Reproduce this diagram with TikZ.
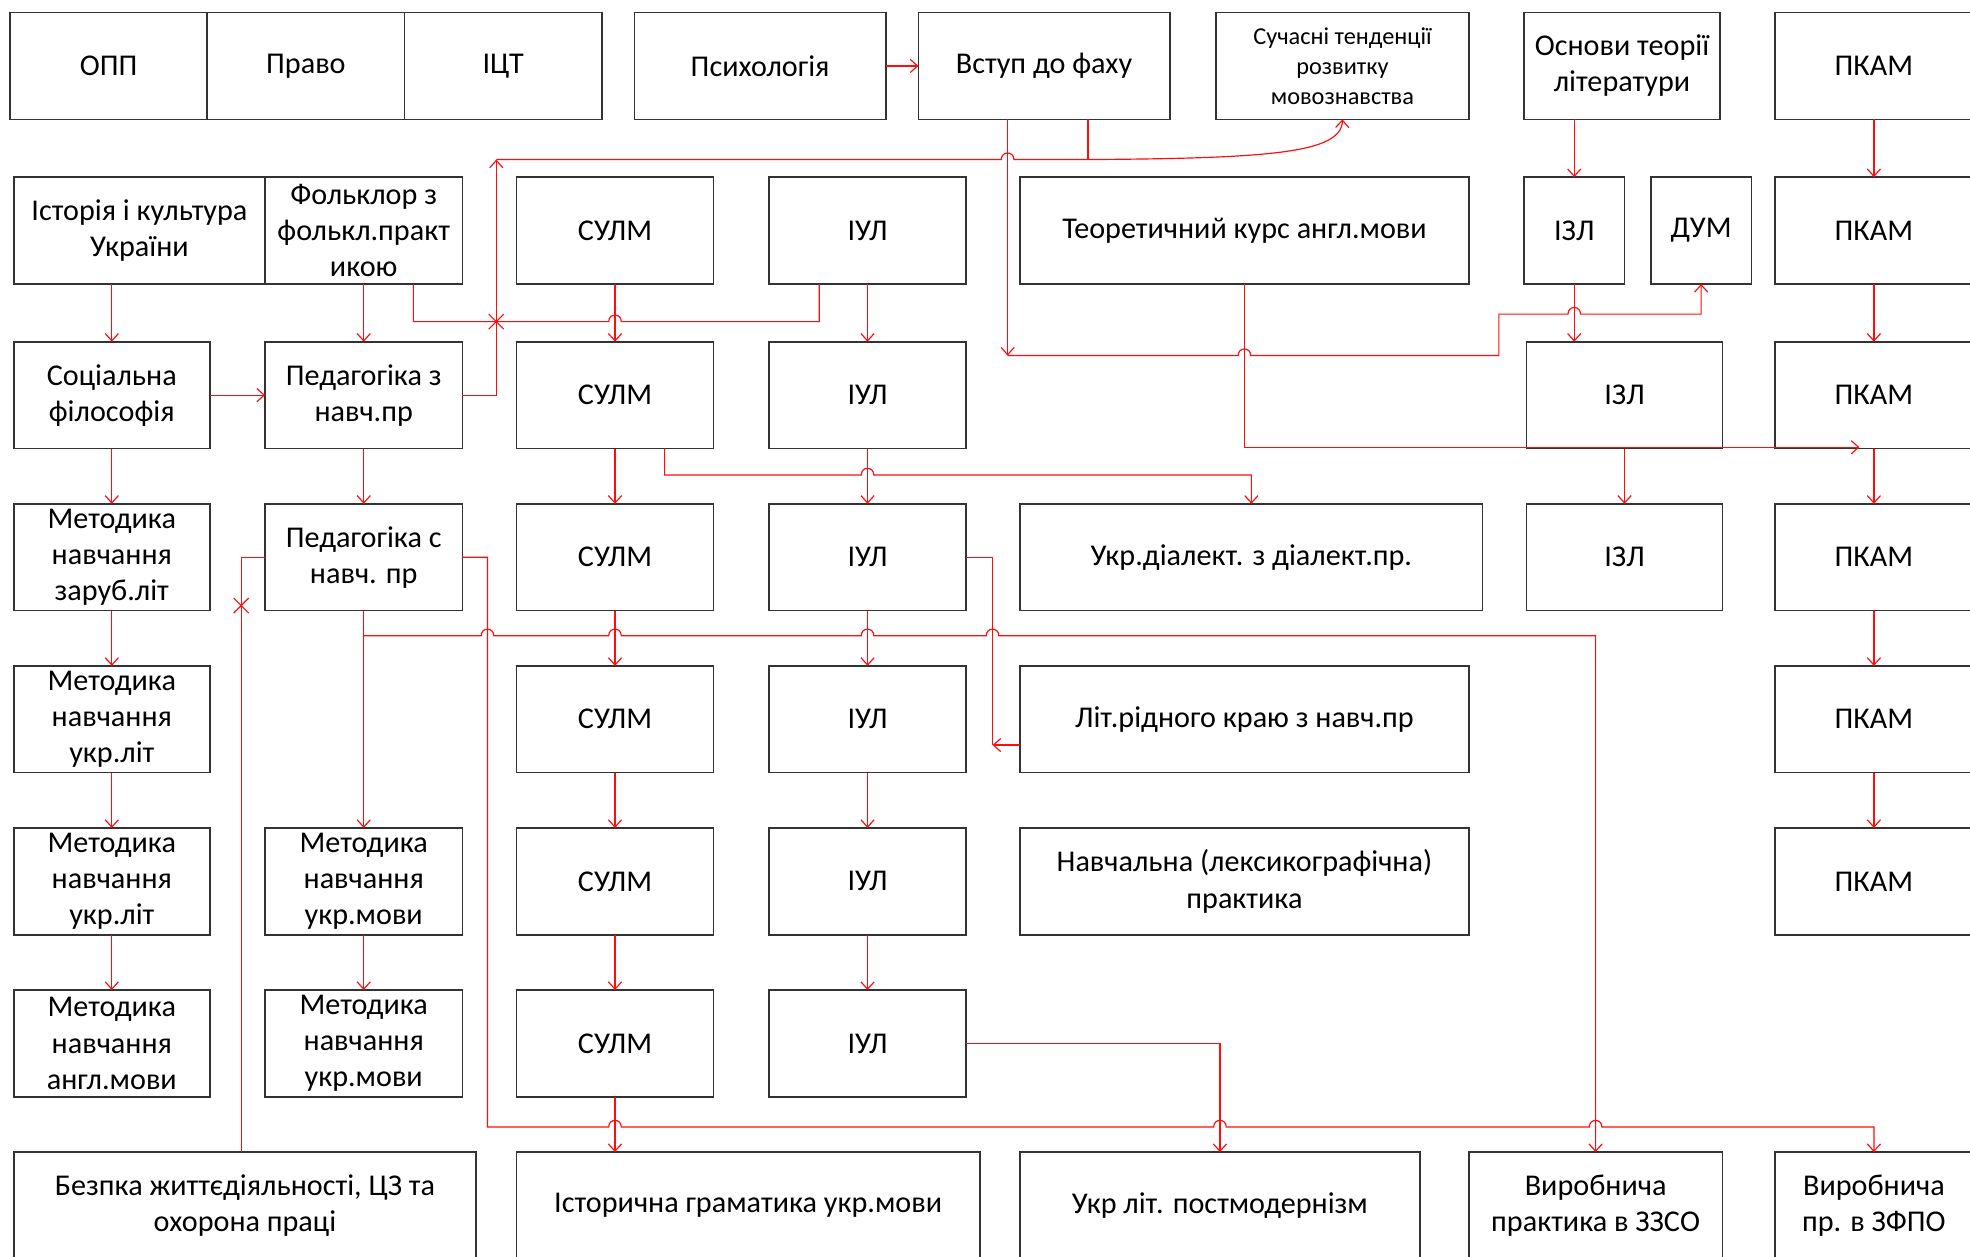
\documentclass[tikz,border=0pt]{standalone}
\usepackage{fontspec}
\setmainfont{Carlito}
\usetikzlibrary{arrows.meta}

\begin{document}
\begin{tikzpicture}[x=0.03cm, y=-0.03cm,
  box/.style={draw=black!80, line width=1.1pt, minimum height=2.55cm, inner sep=0pt, outer sep=0pt,
              align=center, font=\fontsize{20.5}{24.5}\selectfont},
  wd/.style={minimum width=#1*0.03cm},
  conn/.style={draw=red!95!white, line width=0.8pt},
  arr/.style={conn, -{Straight Barb[length=5pt,width=9pt]}}]
\clip (0,0) rectangle (1568,1000);
\useasboundingbox (0,0) rectangle (1568,1000);

\node[box, wd=157] (opp)   at (86.5,52.5)  {ОПП};
\node[box, wd=157] (pravo) at (243.5,52.5) {Право};
\node[box, wd=157] (ict)   at (400.5,52.5) {ІЦТ};
\node[box, wd=200] (psy)   at (605,52.5)   {Психологія};
\node[box, wd=200] (vstup) at (831,52.5)   {Вступ до фаху};
\node[box, wd=201, font=\fontsize{16.5}{20.5}\selectfont] (suchasni) at (1068.5,52.5) {Сучасні тенденції\\розвитку\\мовознавства};
\node[box, wd=156] (osnovy) at (1291,52.5) {Основи теорії\\літератури};

\node[box, wd=200] (istoria) at (111,183.5)   {Історія і культура\\України};
\node[box, wd=157] (folk)    at (289.5,183.5) {Фольклор з\\фолькл.практ\\икою};
\node[box, wd=357] (teor)    at (990.5,183.5) {Теоретичний курс англ.мови};
\node[box, wd=80]  (izl2)    at (1253,183.5)  {ІЗЛ};
\node[box, wd=80]  (dum)     at (1354,183.5)  {ДУМ};

\node[box, wd=156] (socfil) at (89,314.5)    {Соціальна\\філософія};
\node[box, wd=157] (ped1)   at (289.5,314.5) {Педагогіка з\\навч.пр};
\node[box, wd=156] (izl3)   at (1293,314.5)  {ІЗЛ};

\node[box, wd=156] (metzar)  at (89,443.5)    {Методика\\навчання\\заруб.літ};
\node[box, wd=157] (ped2)    at (289.5,443.5) {Педагогіка с\\навч. пр};
\node[box, wd=368] (dialekt) at (996,443.5)   {Укр.діалект. з діалект.пр.};
\node[box, wd=156] (izl4)    at (1293,443.5)  {ІЗЛ};

\node[box, wd=156] (metlit5) at (89,572.5)    {Методика\\навчання\\укр.літ};
\node[box, wd=357] (litkraj) at (990.5,572.5) {Літ.рідного краю з навч.пр};

\node[box, wd=156] (metlit6) at (89,701.5)    {Методика\\навчання\\укр.літ};
\node[box, wd=157] (metmov6) at (289.5,701.5) {Методика\\навчання\\укр.мови};
\node[box, wd=357] (navch)   at (990.5,701.5) {Навчальна (лексикографічна)\\практика};

\node[box, wd=156] (metangl) at (89,830.5)    {Методика\\навчання\\англ.мови};
\node[box, wd=157] (metmov7) at (289.5,830.5) {Методика\\навчання\\укр.мови};

\node[box, wd=368] (bzhd)    at (195,959.5)    {Безпка життєдіяльності, ЦЗ та\\охорона праці};
\node[box, wd=369] (istgram) at (595.5,959.5)  {Історична граматика укр.мови};
\node[box, wd=318] (postmod) at (971,959.5)    {Укр літ. постмодернізм};
\node[box, wd=202] (vyrzzso) at (1270,959.5)   {Виробнича\\практика в ЗЗСО};
\node[box, wd=157] (vyrzfpo) at (1491.5,959.5) {Виробнича\\пр. в ЗФПО};

\foreach \r/\y in {2/183.5, 3/314.5, 4/443.5, 5/572.5, 6/701.5, 7/830.5} {
  \node[box, wd=157] (sulm\r) at (489.5,\y) {СУЛМ};
  \node[box, wd=157] (iul\r)  at (690.5,\y) {ІУЛ};
}
\foreach \r/\y in {1/52.5, 2/183.5, 3/314.5, 4/443.5, 5/572.5, 6/701.5}
  \node[box, wd=157] (pkam\r) at (1491.5,\y) {ПКАМ};

\draw[arr] (psy) -- (vstup);
\draw[arr] (istoria.south -| socfil.north) -- (socfil.north);
\draw[arr] (socfil) -- (ped1);
\foreach \a/\b in {folk/ped1, socfil/metzar, metzar/metlit5, metlit5/metlit6, metlit6/metangl,
                   ped1/ped2, ped2/metmov6, metmov6/metmov7, izl3/izl4}
  \draw[arr] (\a) -- (\b);
\draw[arr] (osnovy.south -| izl2.north) -- (izl2.north);
\draw[arr] (izl2.south) -- (izl2.south |- izl3.north);
\foreach \r [count=\s from 2] in {1,...,5}
  \draw[arr] (pkam\r) -- (pkam\s);
\foreach \r [count=\s from 3] in {2,...,6} {
  \draw[arr] (sulm\r) -- (sulm\s);
  \draw[arr] (iul\r) -- (iul\s);
}
\draw[arr] (sulm7.south) -- (sulm7.south |- istgram.north);

\coordinate (hub) at (395,127);
\coordinate (turn) at (802,283);
\coordinate (kraj) at (790,593);
\coordinate (x1) at (395,256);
\coordinate (x2) at (192,482);

\draw[arr] (ped1.east) -| (hub);
\draw[arr] (hub) -- (797,127) .. controls +(0,-7) and +(0,-7) .. (807,127) -- (866,127)
           .. controls (1010,126) and (1068,122) .. (suchasni.south);
\draw[conn] (vstup.south -| 866,0) -- (866,127);
\draw[arr] (vstup.south -| turn) -- (turn);
\draw[arr] (turn) -- (985.5,283) .. controls +(0,-7) and +(0,-7) .. (995.5,283) -- (1193,283) -- (1193,250)
           -- (1248,250) .. controls +(0,-7) and +(0,-7) .. (1258,250) -| (dum.south);
\draw[arr] (teor.south) |- (1480,356);

\draw[conn] (folk.south -| 329,0) |- (484.5,256) .. controls +(0,-7) and +(0,-7) .. (494.5,256) -| (iul2.south -| 652,0);
\draw[conn] (x1) +(-6,-6) -- +(6,6) (x1) +(-6,6) -- +(6,-6);
\draw[arr] (sulm3.south -| 529,0) |- (685.5,378) .. controls +(0,-7) and +(0,-7) .. (695.5,378) -| (dialekt.north);

\draw[arr] (ped2.south |- 0,506) -- (383,506) .. controls +(0,-7) and +(0,-7) .. (393,506)
           -- (484.5,506) .. controls +(0,-7) and +(0,-7) .. (494.5,506)
           -- (685.5,506) .. controls +(0,-7) and +(0,-7) .. (695.5,506)
           -- (785,506) .. controls +(0,-7) and +(0,-7) .. (795,506) -| (vyrzzso.north);
\draw[arr] (ped2.east) -| (388,897) -- (484.5,897) .. controls +(0,-7) and +(0,-7) .. (494.5,897)
           -- (966,897) .. controls +(0,-7) and +(0,-7) .. (976,897)
           -- (1265,897) .. controls +(0,-7) and +(0,-7) .. (1275,897) -| (vyrzfpo.north);
\draw[conn] (ped2.west) -| (bzhd.north -| 192,0);
\draw[conn] (x2) +(-6,-6) -- +(6,6) (x2) +(-6,6) -- +(6,-6);

\draw[conn] (iul4.east) -| (kraj);
\draw[arr] (litkraj.west |- kraj) -- (kraj);
\draw[arr] (iul7.east) -| (postmod.north);
\end{tikzpicture}
\end{document}
